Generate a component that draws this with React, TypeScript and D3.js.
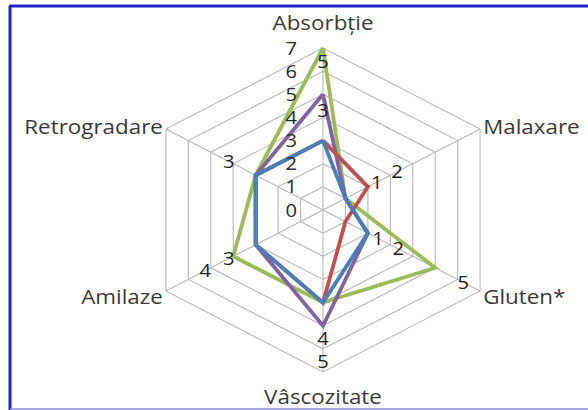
import React, { useEffect, useRef } from 'react';
import * as d3 from 'd3';

// categorii (în sensul acelor de ceasornic, de sus)
const categories = ['Absorbție', 'Malaxare', 'Gluten*', 'Vâscozitate', 'Amilaze', 'Retrogradare'];
const tickValues = [0, 1, 2, 3, 4, 5, 6, 7];

// serii
const greenValues = [7, 1, 5, 4, 4, 3];
const purpleValues = [5, 1, 2, 5, 3, 3];
const redValues = [3, 2, 1, 4, 3, 3];
const blueValues = [3, 1, 2, 4, 3, 3];
const seriesColors = ['#9bbb59', '#8064a2', '#c0504d', '#4a7ebb'];

// etichete de date: axa, poziția pe axă, text
const labelAxis = [0, 0, 1, 1, 2, 2, 2, 3, 3, 4, 4, 5];
const labelAt = [6.4, 4.3, 2.4, 3.3, 2.45, 3.35, 6.25, 5.55, 6.55, 4.2, 5.25, 4.2];
const labelText = ['5', '3', '1', '2', '1', '2', '5', '4', '5', '3', '4', '3'];

const App = () => {
  const ref = useRef<SVGSVGElement | null>(null);

  useEffect(() => {
    const svg = d3.select(ref.current);
    svg.selectAll('*').remove();

    const width = 588;
    const height = 410;
    const cx = 323;
    const cy = 210;
    const sx = 1.12; // imaginea e ușor întinsă pe orizontală
    const font = "'Open Sans', sans-serif";

    const r = d3.scaleLinear().domain([0, 7]).range([0, 162]);
    const angle = d3.scaleLinear().domain([0, categories.length]).range([0, 2 * Math.PI]);
    const pt = (i: number, v: number): [number, number] => [
      cx + sx * r(v) * Math.sin(angle(i)),
      cy - r(v) * Math.cos(angle(i)),
    ];

    svg.attr('width', width).attr('height', height);
    svg.append('rect').attr('width', width).attr('height', height).attr('fill', '#fff');

    // cadru
    svg.append('line').attr('x1', 10).attr('x2', 10).attr('y1', 6).attr('y2', 410)
      .attr('stroke', '#2222c4').attr('stroke-width', 3);
    svg.append('line').attr('x1', 9).attr('x2', 588).attr('y1', 6).attr('y2', 6)
      .attr('stroke', '#2222c4').attr('stroke-width', 3);
    svg.append('line').attr('x1', 10).attr('x2', 588).attr('y1', 409).attr('y2', 409)
      .attr('stroke', '#8a8ad8').attr('stroke-width', 1.5);

    const g = svg.append('g');

    // grila
    tickValues.slice(1).forEach(t => {
      const pts = categories.map((_, i) => pt(i, t));
      g.append('path')
        .attr('d', d3.line()(pts.concat([pts[0]])) || '')
        .attr('fill', 'none')
        .attr('stroke', '#b8b8b8')
        .attr('stroke-width', 1.1);
    });
    categories.forEach((_, i) => {
      const [x, y] = pt(i, 7);
      g.append('line').attr('x1', cx).attr('y1', cy).attr('x2', x).attr('y2', y)
        .attr('stroke', '#b8b8b8').attr('stroke-width', 1.1);
    });

    // serii
    const all = [greenValues, purpleValues, redValues, blueValues];
    all.forEach((vals, s) => {
      const pts = vals.map((v, i) => pt(i, v));
      g.append('path')
        .attr('d', d3.line()(pts.concat([pts[0]])) || '')
        .attr('fill', 'none')
        .attr('stroke', seriesColors[s])
        .attr('stroke-width', 3.8)
        .attr('stroke-linejoin', 'miter');
    });

    // etichete axă
    tickValues.forEach(t => {
      g.append('text')
        .attr('transform', `translate(297, ${cy - r(t)}) scale(${sx},1)`)
        .attr('text-anchor', 'end')
        .attr('dominant-baseline', 'central')
        .style('font-family', font)
        .style('font-size', '18px')
        .style('fill', '#2a2a2a')
        .text(t);
    });

    // etichete de date
    labelText.forEach((txt, k) => {
      const [x, y] = pt(labelAxis[k], labelAt[k]);
      g.append('text')
        .attr('transform', `translate(${x}, ${y}) scale(${sx},1)`)
        .attr('text-anchor', 'middle')
        .attr('dominant-baseline', 'central')
        .style('font-family', font)
        .style('font-size', '18px')
        .style('fill', '#1e1e1e')
        .text(txt);
    });

    // categorii
    categories.forEach((c, i) => {
      const [x, y] = pt(i, 7);
      let anchor = 'middle';
      let tx = x;
      let ty = y;
      if (i === 0) ty = y - 26;
      else if (i === 3) ty = y + 24;
      else if (i < 3) { anchor = 'start'; tx = x + 3; ty = y + (i === 1 ? -3 : 5); }
      else { anchor = 'end'; tx = x - 3; ty = y + (i === 4 ? 5 : -3); }
      g.append('text')
        .attr('transform', `translate(${tx}, ${ty}) scale(${sx},1)`)
        .attr('text-anchor', anchor)
        .attr('dominant-baseline', 'central')
        .style('font-family', font)
        .style('font-size', '20px')
        .style('fill', '#3a3a3a')
        .text(c);
    });
  }, []);

  return <svg ref={ref} style={{ position: 'absolute', left: 0, top: 0, display: 'block' }} />;
};

export default App;
